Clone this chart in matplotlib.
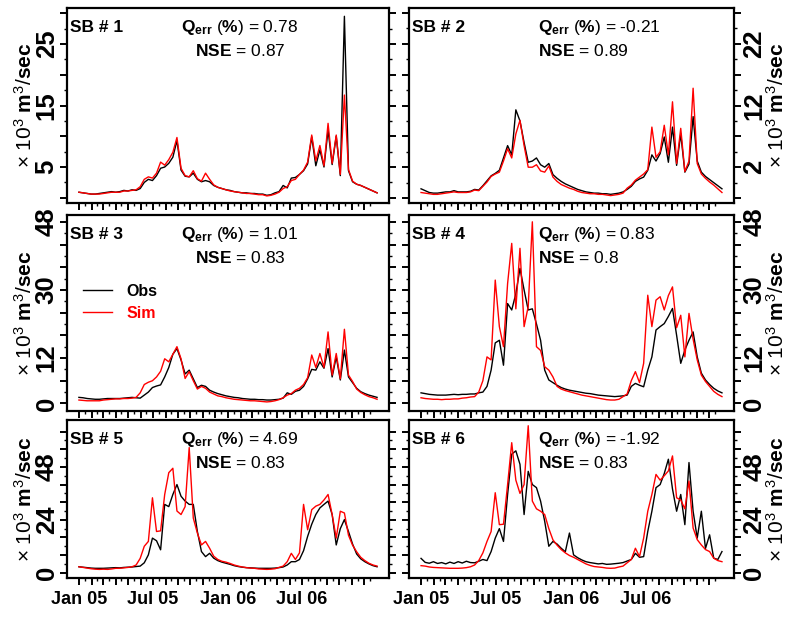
import numpy as np
import pandas as pd
import matplotlib
matplotlib.use('Agg')
import matplotlib.pyplot as plt
import matplotlib.dates as mdates
from matplotlib.ticker import FixedLocator, FuncFormatter

plt.rcParams['font.family'] = 'Liberation Sans'
plt.rcParams['mathtext.fontset'] = 'custom'
plt.rcParams['mathtext.rm'] = 'Liberation Sans'
plt.rcParams['mathtext.bf'] = 'Liberation Sans:bold'
plt.rcParams['mathtext.it'] = 'Liberation Sans:italic'

dates = pd.date_range('2005-01-01', periods=74, freq='10D')

obs1 = [0.9, 0.8, 0.7, 0.6, 0.6, 0.7, 0.8, 0.9, 1.0, 0.9, 1.0, 1.2, 1.1, 1.3, 1.2, 1.5, 2.5, 3.0, 2.8, 3.6,
        4.8, 5.0, 5.6, 6.6, 9.3, 4.5, 3.5, 3.4, 4.0, 3.0, 2.6, 2.8, 2.6, 2.0, 1.7, 1.5, 1.3, 1.2, 1.0, 0.9,
        0.8, 0.8, 0.7, 0.7, 0.6, 0.6, 0.4, 0.5, 0.8, 1.0, 2.0, 1.6, 3.2, 3.3, 3.8, 4.4, 5.5, 9.9, 5.2, 7.8,
        5.0, 11.0, 5.4, 10.0, 3.6, 29.5, 4.4, 2.6, 2.2, 2.0, 1.7, 1.4, 1.1, 0.8]
sim1 = [0.9, 0.8, 0.7, 0.6, 0.6, 0.6, 0.7, 0.8, 0.9, 0.9, 0.9, 1.1, 1.1, 1.2, 1.3, 1.8, 3.0, 3.4, 3.2, 4.0,
        5.8, 5.3, 6.2, 7.4, 9.8, 4.8, 3.6, 3.4, 4.4, 3.1, 2.7, 4.0, 3.0, 2.1, 1.7, 1.5, 1.3, 1.1, 1.0, 0.9,
        0.8, 0.7, 0.7, 0.6, 0.5, 0.5, 0.3, 0.4, 0.6, 0.9, 1.5, 1.8, 2.8, 3.0, 3.8, 4.5, 5.8, 10.2, 6.0, 8.5,
        5.2, 12.1, 5.6, 10.2, 3.8, 16.7, 4.6, 2.7, 2.2, 2.0, 1.7, 1.4, 1.1, 0.8]

obs2 = [-1.5, -1.8, -2.1, -2.2, -2.2, -2.1, -2.0, -2.0, -1.8, -2.0, -2.0, -2.0, -1.9, -1.6, -1.7, -1.0, -0.2, 0.6, 1.0, 1.5,
        3.5, 5.5, 4.0, 11.3, 9.5, 6.0, 2.8, 3.0, 3.5, 2.4, 2.0, 2.6, 0.8, 0.2, -0.3, -0.7, -1.0, -1.3, -1.6, -1.8,
        -2.0, -2.1, -2.2, -2.2, -2.3, -2.3, -2.4, -2.3, -2.2, -2.0, -1.6, -1.1, -0.3, 0.1, 0.4, 1.5, 4.0, 3.0, 4.2, 6.9,
        2.8, 8.5, 2.3, 7.4, 1.2, 2.5, 10.2, 3.0, 1.2, 0.5, 0.0, -0.5, -1.0, -1.5]
sim2 = [-2.1, -2.2, -2.3, -2.4, -2.4, -2.3, -2.2, -2.1, -2.0, -2.1, -2.1, -2.1, -2.0, -1.7, -1.8, -1.1, -0.4, 0.5, 0.9, 1.2,
        3.0, 5.0, 3.5, 7.4, 9.6, 5.5, 2.0, 2.0, 2.4, 1.4, 1.2, 2.2, 0.4, -0.3, -0.8, -1.1, -1.4, -1.6, -1.9, -2.1,
        -2.2, -2.3, -2.3, -2.4, -2.4, -2.5, -2.6, -2.5, -2.4, -2.2, -1.4, -0.9, -0.1, 0.4, 0.9, 1.6, 8.5, 3.6, 4.5, 8.8,
        4.0, 12.6, 2.6, 8.3, 1.3, 3.0, 14.8, 2.6, 0.9, 0.2, -0.4, -0.9, -1.5, -2.1]

obs3 = [1.6, 1.5, 1.3, 1.2, 1.1, 1.1, 1.2, 1.3, 1.3, 1.3, 1.3, 1.4, 1.5, 1.6, 1.5, 1.4, 2.2, 3.0, 4.2, 4.6,
        4.9, 7.0, 9.5, 13.0, 14.5, 11.5, 7.8, 8.8, 6.5, 4.2, 4.8, 4.5, 3.5, 3.0, 2.6, 2.3, 2.0, 1.8, 1.6, 1.5,
        1.3, 1.2, 1.1, 1.1, 1.0, 1.0, 0.9, 0.9, 1.0, 1.1, 1.4, 2.8, 2.4, 3.2, 3.5, 4.5, 6.5, 9.0, 8.8, 11.0,
        9.3, 14.5, 7.0, 12.3, 6.2, 14.1, 7.0, 5.5, 4.0, 3.1, 2.6, 2.2, 1.9, 1.6]
sim3 = [0.9, 0.8, 0.7, 0.7, 0.7, 0.7, 0.9, 1.0, 1.1, 1.2, 1.2, 1.3, 1.3, 1.4, 1.6, 2.8, 5.0, 5.6, 6.0, 7.0,
        8.5, 11.8, 11.0, 13.0, 15.0, 11.8, 6.6, 8.4, 6.0, 3.8, 4.5, 4.0, 3.0, 2.5, 2.0, 1.8, 1.5, 1.3, 1.1, 1.0,
        0.9, 0.8, 0.7, 0.7, 0.6, 0.5, 0.4, 0.5, 0.7, 1.0, 1.5, 2.2, 2.6, 3.5, 4.0, 5.0, 6.8, 12.8, 9.5, 13.2,
        9.5, 18.9, 7.5, 13.2, 6.5, 19.6, 7.5, 5.8, 3.8, 2.9, 2.3, 1.8, 1.5, 1.1]

obs4 = [2.8, 2.6, 2.4, 2.3, 2.2, 2.2, 2.2, 2.3, 2.4, 2.3, 2.4, 2.4, 2.5, 2.5, 2.8, 3.0, 4.5, 8.8, 16.0, 16.7,
        10.1, 26.4, 24.7, 29.0, 35.7, 30.0, 24.7, 25.0, 21.0, 16.7, 8.8, 6.2, 5.5, 4.8, 4.2, 3.8, 3.5, 3.3, 3.1, 2.9,
        2.7, 2.6, 2.4, 2.2, 2.1, 2.0, 1.9, 1.8, 1.9, 2.0, 2.2, 4.5, 5.3, 4.8, 4.4, 8.8, 12.3, 19.4, 20.3, 21.1,
        23.0, 25.1, 18.0, 10.6, 14.1, 16.7, 18.9, 12.3, 8.0, 6.2, 5.0, 4.0, 3.3, 2.8]
sim4 = [1.5, 1.3, 1.2, 1.1, 1.1, 1.0, 1.1, 1.1, 1.2, 1.2, 1.4, 1.5, 1.7, 1.8, 3.0, 6.0, 12.3, 11.5, 32.6, 20.3,
        15.0, 31.7, 42.3, 25.0, 41.0, 20.3, 25.6, 48.0, 15.0, 14.0, 9.7, 8.8, 7.0, 4.5, 3.8, 3.4, 3.1, 2.8, 2.5, 2.2,
        2.0, 1.8, 1.6, 1.4, 1.2, 1.0, 0.9, 0.9, 1.1, 1.8, 2.5, 6.0, 8.4, 5.5, 10.6, 28.6, 20.3, 27.3, 28.2, 24.7,
        28.5, 30.8, 20.0, 23.3, 12.3, 23.8, 17.0, 11.5, 7.5, 5.8, 4.5, 3.2, 2.4, 1.8]

obs5 = [2.7, 2.5, 2.3, 2.1, 2.0, 2.0, 2.0, 2.1, 2.2, 2.3, 2.2, 2.4, 2.5, 2.6, 2.8, 3.0, 4.5, 8.1, 15.7, 14.5,
        10.4, 31.0, 30.0, 35.5, 40.0, 34.7, 32.5, 31.0, 31.0, 18.7, 9.6, 7.3, 8.8, 6.6, 5.5, 4.8, 4.3, 3.8, 3.2, 2.8,
        2.5, 2.3, 2.2, 2.1, 2.0, 2.0, 2.0, 2.0, 2.1, 2.3, 2.6, 3.5, 5.0, 5.0, 6.0, 10.0, 16.5, 22.0, 26.4, 29.4,
        31.0, 32.5, 26.4, 12.6, 20.0, 24.1, 18.7, 13.0, 8.5, 6.3, 5.0, 4.0, 3.2, 2.7]
sim5 = [2.7, 2.4, 2.1, 1.8, 1.6, 1.5, 1.6, 1.5, 1.7, 2.0, 2.0, 2.2, 2.4, 2.7, 3.5, 6.5, 12.0, 14.2, 34.0, 18.7,
        19.0, 35.5, 45.4, 47.4, 28.0, 26.4, 30.0, 56.8, 24.8, 18.0, 12.6, 14.2, 11.1, 7.5, 6.0, 5.2, 4.8, 4.2, 3.5, 3.0,
        2.6, 2.3, 2.1, 2.0, 1.7, 1.6, 1.5, 1.6, 1.8, 2.4, 3.0, 5.0, 8.8, 6.0, 9.0, 31.0, 19.5, 28.6, 30.2, 31.0,
        33.0, 35.5, 26.4, 15.7, 27.9, 27.1, 17.0, 12.5, 9.5, 7.0, 5.5, 4.3, 3.5, 3.0]

obs6 = [6.5, 4.7, 4.3, 5.0, 4.2, 4.6, 4.0, 4.8, 4.2, 5.0, 4.4, 5.2, 4.6, 4.5, 5.2, 6.0, 5.5, 9.6, 15.7, 20.0,
        14.2, 35.5, 53.8, 55.3, 49.2, 26.4, 46.0, 40.0, 38.6, 32.5, 23.3, 12.0, 14.2, 13.0, 11.1, 9.5, 18.0, 8.1, 6.8, 5.8,
        5.0, 4.6, 4.3, 4.0, 4.2, 3.8, 3.9, 4.1, 4.3, 4.6, 5.3, 6.0, 8.8, 7.0, 7.3, 18.7, 27.9, 38.6, 40.0, 45.0,
        51.5, 38.0, 27.9, 35.5, 21.8, 50.0, 27.9, 15.7, 27.9, 11.0, 17.2, 6.6, 6.0, 9.6]
sim6 = [3.2, 3.0, 2.6, 2.4, 2.3, 2.2, 2.1, 2.0, 2.0, 2.0, 2.1, 2.3, 2.7, 3.5, 5.5, 9.0, 14.2, 18.7, 36.3, 21.8,
        22.0, 40.0, 59.0, 42.0, 36.0, 40.0, 66.7, 32.5, 29.0, 27.9, 26.4, 20.0, 14.9, 12.5, 10.5, 9.0, 7.8, 7.0, 6.0, 5.0,
        4.0, 3.3, 2.8, 2.6, 2.4, 2.1, 2.0, 2.1, 2.6, 3.0, 4.5, 6.0, 11.1, 7.3, 15.7, 27.9, 35.5, 44.6, 42.0, 44.0,
        46.2, 53.0, 34.0, 33.0, 29.0, 41.6, 20.3, 15.0, 12.6, 10.5, 9.6, 6.6, 5.5, 5.0]

basins = ['SB # 1', 'SB # 2', 'SB # 3', 'SB # 4', 'SB # 5', 'SB # 6']
qerr = ['0.78', '-0.21', '1.01', '0.83', '4.69', '-1.92']
nse = ['0.87', '0.89', '0.83', '0.8', '0.83', '0.83']

obs = [obs1, obs2, obs3, obs4, obs5, obs6]
sim = [sim1, sim2, sim3, sim4, sim5, sim6]

# axis setup per panel
ylims = [(-0.85, 30.85), (-3.8, 27.8), (-2.0, 49.8), (-2.0, 49.8), (-2.4, 69.3), (-2.4, 69.3)]
ystart = [0, -3, 0, 0, 0, 0]
yend = [30, 27, 48, 48, 64, 64]
ystep = [5, 5, 6, 6, 8, 8]
ylabs = [[5, 15, 25], [2, 12, 22], [0, 12, 30, 48], [0, 12, 30, 48], [0, 24, 48], [0, 24, 48]]

months = pd.date_range('2005-01-01', '2006-12-01', freq='MS')
mids = months + pd.Timedelta(days=14)
t0 = pd.Timestamp('2005-01-01')
xlo = mdates.date2num(t0 - pd.Timedelta(days=29.2))
xhi = mdates.date2num(t0 + pd.Timedelta(days=759.2))

def month_fmt(x, pos):
    d = mdates.num2date(x)
    return d.strftime('%b %y') if d.month in (1, 7) else ''

fig = plt.figure(figsize=(8, 6.17), dpi=100)
col_x = [67, 409]
col_w = [322, 325]
rows = [(8, 203), (215, 411), (420, 578)]

for k in range(6):
    r, c = divmod(k, 2)
    top, bot = rows[r]
    ax = fig.add_axes([col_x[c] / 800, 1 - bot / 617, col_w[c] / 800, (bot - top) / 617])
    ax.plot(dates, obs[k], color='black', lw=1.0, label='Obs')
    ax.plot(dates, sim[k], color='red', lw=1.0, label='Sim')
    ax.set_xlim(xlo, xhi)
    ax.set_ylim(*ylims[k])

    ticks = np.arange(ystart[k], yend[k] + 0.1, ystep[k])
    ax.set_yticks(ticks)
    ax.set_yticklabels([str(int(t)) if int(t) in ylabs[k] else '' for t in ticks])
    ax.set_yticks(ticks[:-1] + ystep[k] / 2, minor=True)
    ax.xaxis.set_major_locator(FixedLocator(mdates.date2num(months)))
    ax.xaxis.set_minor_locator(FixedLocator(mdates.date2num(mids)))
    ax.xaxis.set_major_formatter(FuncFormatter(month_fmt))

    for sp in ax.spines.values():
        sp.set_linewidth(1.6)
    ax.tick_params(which='major', direction='out', length=5, width=1.4,
                   left=True, right=True, bottom=True, top=False)
    ax.tick_params(which='minor', direction='out', length=2, width=1.0,
                   left=True, right=True, bottom=True, top=False)
    ax.tick_params(axis='y', labelrotation=90, labelsize=18.5, pad=1,
                   labelleft=(c == 0), labelright=(c == 1))
    ax.tick_params(axis='x', labelsize=13, pad=4, labelbottom=(r == 2))
    for lbl in ax.get_yticklabels() + ax.get_xticklabels():
        lbl.set_fontweight('bold')
    for lbl in ax.get_yticklabels():
        lbl.set_va('center')

    ax.set_ylabel(r'$\times\ 10^3\ \mathbf{m}^3/\mathbf{sec}$', fontsize=15)
    if c == 1:
        ax.yaxis.set_label_position('right')
        ax.yaxis.set_label_coords((777 - 409) / 325, 0.5)
    else:
        ax.yaxis.set_label_coords((25 - 67) / 322, 0.5)
    ax.yaxis.label.set_va('center')

    ax.annotate(basins[k], xy=(0, 1), xycoords='axes fraction', xytext=(3, -24),
                textcoords='offset pixels', ha='left', va='baseline',
                fontsize=12.5, fontweight='bold')
    if c == 0:
        qx, ha = 0.537, 'center'
    else:
        qx, ha = 0.397, 'left'
    ax.annotate(r'$\mathbf{Q}_{\mathbf{err}}\ (\mathbf{\%})$ = ' + qerr[k], xy=(qx, 1),
                xycoords='axes fraction', xytext=(0, -24), textcoords='offset pixels',
                ha=ha, va='baseline', fontsize=12.5)
    ax.annotate(r'$\mathbf{NSE}$ = ' + nse[k], xy=(qx, 1),
                xycoords='axes fraction', xytext=(0, -48), textcoords='offset pixels',
                ha=ha, va='baseline', fontsize=12.5)

    if k == 2:
        ax.legend(loc='upper left', bbox_to_anchor=(0.05, 0.65), frameon=False,
                  labelcolor='linecolor', prop={'weight': 'bold', 'size': 11.5},
                  handlelength=1.8, handletextpad=0.9, labelspacing=0.45,
                  borderpad=0, borderaxespad=0)

fig.savefig('out.png', dpi=100)
